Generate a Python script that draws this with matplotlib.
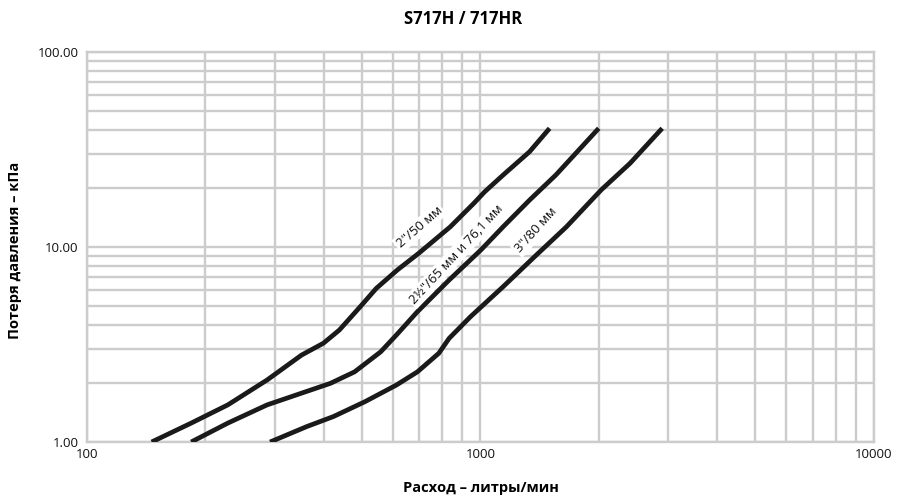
import matplotlib
matplotlib.use("Agg")
import matplotlib.pyplot as plt
from matplotlib.ticker import FixedLocator, NullFormatter, FixedFormatter

plt.rcParams['font.family'] = ['Open Sans', 'DejaVu Sans']

# Flow (l/min) and pressure loss (kPa)
flow_50 = [146, 184, 228, 287, 351, 399, 438, 495, 544, 615, 697, 839, 964, 1026, 1143, 1334, 1500]
loss_50 = [1.0, 1.25, 1.55, 2.08, 2.79, 3.21, 3.75, 4.94, 6.14, 7.62, 9.28, 12.7, 16.8, 19.2, 23.4, 30.8, 40.6]

flow_65 = [184, 228, 287, 351, 416, 479, 558, 612, 692, 833, 1003, 1143, 1334, 1556, 2000]
loss_65 = [1.0, 1.25, 1.55, 1.78, 2.0, 2.29, 2.9, 3.54, 4.66, 6.77, 9.65, 12.7, 17.4, 23.4, 40.6]

flow_80 = [292, 362, 423, 509, 612, 692, 784, 833, 944, 1143, 1374, 1656, 2028, 2404, 2900]
loss_80 = [1.0, 1.2, 1.35, 1.61, 1.96, 2.29, 2.85, 3.4, 4.39, 6.26, 8.92, 12.7, 19.6, 26.9, 40.6]

labels = ['2"/50 мм', '2½"/65 мм и 76,1 мм', '3"/80 мм']
label_pos = [(700, 12.6), (870, 9.2), (1385, 12.2)]
label_rot = [41, 47, 48]

x_ticks = [100, 1000, 10000]
x_ticklabels = ['100', '1000', '10000']
y_ticks = [1, 10, 100]
y_ticklabels = ['1.00', '10.00', '100.00']

fig = plt.figure(figsize=(9, 5), dpi=100)
ax = fig.add_axes([0.0967, 0.116, 0.874, 0.78])
ax.set_xscale('log')
ax.set_yscale('log')
ax.set_xlim(100, 10000)
ax.set_ylim(1, 100)

grid_c = '#cccccc'
ax.grid(True, which='both', color=grid_c, linewidth=1.7, zorder=0)
for s in ax.spines.values():
    s.set_color(grid_c)
    s.set_linewidth(1.7)

ax.xaxis.set_major_locator(FixedLocator(x_ticks))
ax.xaxis.set_major_formatter(FixedFormatter(x_ticklabels))
ax.xaxis.set_minor_formatter(NullFormatter())
ax.yaxis.set_major_locator(FixedLocator(y_ticks))
ax.yaxis.set_major_formatter(FixedFormatter(y_ticklabels))
ax.yaxis.set_minor_formatter(NullFormatter())
ax.tick_params(which='both', length=0, labelsize=9.5, colors='#111111')
ax.tick_params(axis='x', pad=4)
ax.tick_params(axis='y', pad=6)

for fx, ly in [(flow_50, loss_50), (flow_65, loss_65), (flow_80, loss_80)]:
    ax.plot(fx, ly, color='#1a1a1a', linewidth=3.4, solid_capstyle='butt',
            solid_joinstyle='round', zorder=3)

for txt, (px, py), rot in zip(labels, label_pos, label_rot):
    ax.text(px, py, txt, rotation=rot, rotation_mode='anchor', ha='center', va='center',
            fontsize=9.5, color='#111111', zorder=4,
            bbox=dict(boxstyle='square,pad=0.15', facecolor='white', edgecolor='none'))

fig.text(0.515, 0.962, 'S717H / 717HR', ha='center', va='center', fontsize=12, fontweight='bold')
fig.text(0.534, 0.024, 'Расход – литры/мин', ha='center', va='center', fontsize=10.5, fontweight='bold')
fig.text(0.017, 0.5, 'Потеря давления – кПа', ha='center', va='center', rotation=90,
         fontsize=10.5, fontweight='bold')

fig.savefig('out.png', dpi=100)
